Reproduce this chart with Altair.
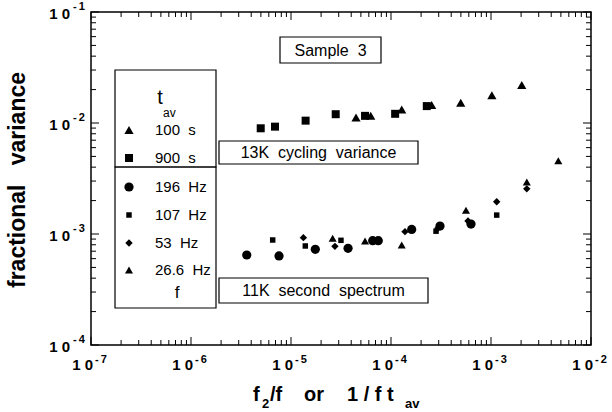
import altair as alt
import pandas as pd

# 13K cycling variance, plotted against 1/(f t_av)
tav100_x = [4.47e-5, 6.27e-5, 1.28e-4, 2.55e-4, 4.98e-4, 1.02e-3, 2.03e-3]
tav100_y = [1.12e-2, 1.16e-2, 1.32e-2, 1.45e-2, 1.52e-2, 1.78e-2, 2.20e-2]
tav900_x = [4.98e-6, 6.92e-6, 1.40e-5, 2.80e-5, 5.50e-5, 1.10e-4, 2.28e-4]
tav900_y = [8.96e-3, 9.27e-3, 1.05e-2, 1.20e-2, 1.16e-2, 1.21e-2, 1.42e-2]

# 11K second spectrum, plotted against f2/f
f196_x = [3.61e-6, 7.59e-6, 1.75e-5, 3.72e-5, 6.56e-5, 7.46e-5, 1.61e-4, 3.09e-4, 6.31e-4]
f196_y = [6.47e-4, 6.34e-4, 7.28e-4, 7.43e-4, 8.71e-4, 8.71e-4, 1.10e-3, 1.18e-3, 1.23e-3]
f107_x = [6.56e-6, 1.39e-5, 3.16e-5, 2.82e-4, 1.14e-3]
f107_y = [8.83e-4, 7.80e-4, 8.77e-4, 1.06e-3, 1.48e-3]
f53_x = [1.33e-5, 2.75e-5, 1.38e-4, 2.95e-4, 5.89e-4, 1.14e-3, 2.28e-3]
f53_y = [9.27e-4, 7.74e-4, 1.05e-3, 1.13e-3, 1.31e-3, 1.95e-3, 2.55e-3]
f26_x = [2.61e-5, 5.50e-5, 1.28e-4, 5.62e-4, 2.28e-3, 4.71e-3]
f26_y = [9.14e-4, 8.65e-4, 7.96e-4, 1.64e-3, 2.94e-3, 4.57e-3]

legend_labels = ["100\u00a0\u00a0s", "900\u00a0\u00a0s", "196\u00a0\u00a0Hz",
                 "107\u00a0\u00a0Hz", "53\u00a0\u00a0Hz", "26.6\u00a0\u00a0Hz"]

x_decades = [-7, -6, -5, -4, -3, -2]
y_decades = [-4, -3, -2, -1]

FONT = "Liberation Sans"
W, H = 500, 333
xs = alt.Scale(type="log", domain=[1e-7, 1e-2])
ys = alt.Scale(type="log", domain=[1e-4, 1e-1])

series = [
    ("100 s", tav100_x, tav100_y, "triangle-up", 85),
    ("900 s", tav900_x, tav900_y, "square", 64),
    ("196 Hz", f196_x, f196_y, "circle", 85),
    ("107 Hz", f107_x, f107_y, "square", 30),
    ("53 Hz", f53_x, f53_y, "diamond", 55),
    ("26.6 Hz", f26_x, f26_y, "triangle-up", 65),
]

one = pd.DataFrame({"a": [0]})
layers = []

# data points
for name, sx, sy, shape, size in series:
    df = pd.DataFrame({"x": sx, "y": sy})
    layers.append(
        alt.Chart(df).mark_point(filled=True, shape=shape, size=size, color="black",
                                 opacity=1, strokeWidth=0)
        .encode(x=alt.X("x:Q", scale=xs, axis=None), y=alt.Y("y:Q", scale=ys, axis=None))
    )

# inward ticks on all four sides
x_major = [10.0 ** e for e in x_decades]
x_minor = [k * 10.0 ** e for e in x_decades[:-1] for k in range(2, 10)]
y_major = [10.0 ** e for e in y_decades]
y_minor = [k * 10.0 ** e for e in y_decades[:-1] for k in range(2, 10)]

for vals, ln in ((x_major, 8), (x_minor, 5)):
    d = pd.DataFrame({"v": vals})
    for y0, y1 in ((H, H - ln), (0, ln)):
        layers.append(alt.Chart(d).mark_rule(color="black", strokeWidth=1).encode(
            x=alt.X("v:Q", scale=xs, axis=None), y=alt.value(y0), y2=alt.value(y1)))
for vals, ln in ((y_major, 8), (y_minor, 5)):
    d = pd.DataFrame({"v": vals})
    for x0, x1 in ((0, ln), (W, W - ln)):
        layers.append(alt.Chart(d).mark_rule(color="black", strokeWidth=1).encode(
            y=alt.Y("v:Q", scale=ys, axis=None), x=alt.value(x0), x2=alt.value(x1)))

# tick labels: "10" with superscript exponent
xl = pd.DataFrame({"v": x_major, "e": ["-\u2009" + str(-e) for e in x_decades]})
layers.append(alt.Chart(xl).mark_text(font=FONT, fontWeight="bold", fontSize=15, align="right",
                                      baseline="middle", dx=2).encode(
    x=alt.X("v:Q", scale=xs, axis=None), y=alt.value(H + 20), text=alt.value("1 0")))
layers.append(alt.Chart(xl).mark_text(font=FONT, fontWeight="bold", fontSize=11, align="left",
                                      baseline="middle", dx=4).encode(
    x=alt.X("v:Q", scale=xs, axis=None), y=alt.value(H + 15), text="e:N"))

yl = pd.DataFrame({"v": y_major, "e": ["-\u2009" + str(-e) for e in y_decades]})
layers.append(alt.Chart(yl).mark_text(font=FONT, fontWeight="bold", fontSize=15, align="right",
                                      baseline="middle", dy=1.5).encode(
    y=alt.Y("v:Q", scale=ys, axis=None), x=alt.value(-21), text=alt.value("1 0")))
layers.append(alt.Chart(yl).mark_text(font=FONT, fontWeight="bold", fontSize=11, align="left",
                                      baseline="middle", dy=-5).encode(
    y=alt.Y("v:Q", scale=ys, axis=None), x=alt.value(-18), text="e:N"))

# axis titles
layers.append(alt.Chart(one).mark_text(font=FONT, fontWeight="bold", fontSize=23, angle=270,
                                       align="center", baseline="middle").encode(
    x=alt.value(-73), y=alt.value(168), text=alt.value("fractional\u00a0\u00a0\u00a0variance")))

x_title = [("f", 162, 20, 0), ("2", 171, 13, 7), ("/f", 179, 20, 0), ("or", 213, 20, 0),
           ("1\u00a0/\u00a0f\u00a0t", 256, 20, 0), ("av", 314, 13, 7)]
for txt, px, fs, sub in x_title:
    layers.append(alt.Chart(one).mark_text(font=FONT, fontWeight="bold", fontSize=fs,
                                           align="left", baseline="alphabetic").encode(
        x=alt.value(px), y=alt.value(H + 56 + sub), text=alt.value(txt)))

# framed annotations
def box(x0, x1, y0, y1):
    return alt.Chart(one).mark_rect(fill=None, stroke="black", strokeWidth=1.2).encode(
        x=alt.value(x0), x2=alt.value(x1), y=alt.value(y0), y2=alt.value(y1))

def label(txt, px, py, fs=16, align="center", weight="normal"):
    return alt.Chart(one).mark_text(font=FONT, fontSize=fs, align=align, baseline="middle",
                                    fontWeight=weight).encode(
        x=alt.value(px), y=alt.value(py), text=alt.value(txt))

layers += [box(189, 290, 25, 51), label("Sample\u00a0\u00a03", 239.5, 38.5)]
layers += [box(128, 327, 129, 152), label("13K\u00a0\u00a0cycling\u00a0\u00a0variance", 227.5, 141)]
layers += [box(128, 337, 266, 291), label("11K\u00a0\u00a0second\u00a0\u00a0spectrum", 232.5, 279)]

# legend
layers += [box(24, 125, 58, 155), box(24, 125, 155, 296)]
layers += [label("t", 69, 86, fs=20), label("av", 72, 101, fs=12, align="left"),
           label("f", 86, 281, fs=17)]
row_y = [118, 146, 175, 203, 231, 258]
for (name, _, _, shape, size), lab, ry in zip(series, legend_labels, row_y):
    layers.append(alt.Chart(one).mark_point(filled=True, shape=shape, size=size, color="black",
                                            opacity=1, strokeWidth=0).encode(
        x=alt.value(38), y=alt.value(ry)))
    layers.append(label(lab, 64, ry, fs=15, align="left"))

chart = alt.layer(*layers).properties(
    width=W, height=H,
    padding={"left": 91, "top": 12, "right": 21, "bottom": 67},
    autosize=alt.AutoSizeParams(type="none"),
    background="white",
).configure_view(stroke="black", strokeWidth=1.5)

chart.save("out.html", embed_options={"renderer": "svg", "actions": False})
